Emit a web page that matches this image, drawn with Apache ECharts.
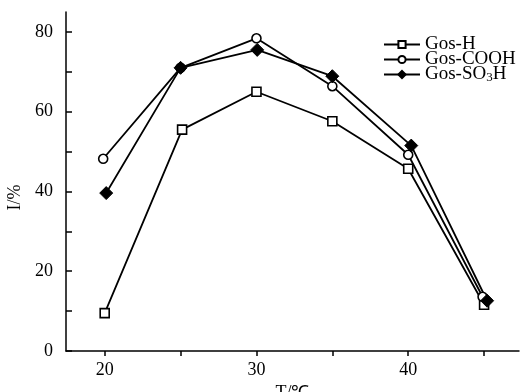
<!DOCTYPE html>
<html>
<head>
<meta charset="utf-8" />
<title>Gos T chart</title>
<style>
  html, body { margin: 0; padding: 0; background: #fff; }
  #chart { width: 521px; height: 392px; }
</style>
</head>
<body>
<div id="chart"></div>
<script src="https://cdn.jsdelivr.net/npm/echarts@6/dist/echarts.min.js"></script>
<script>
// values: [T, I]
const gosH = [[20, 9.5], [25.1, 55.5], [30, 65], [35, 57.6], [40, 45.7], [45, 11.6]];
const gosCOOH = [[19.9, 48.2], [25, 71], [30, 78.4], [35, 66.4], [40, 49.2], [44.9, 13.6]];
const gosSO3H = [[20.1, 39.6], [25, 71], [30.05, 75.5], [35, 68.9], [40.2, 51.5], [45.2, 12.6]];
const seriesNames = ['Gos-H', 'Gos-COOH', 'Gos-SO3H'];
const xTicks = [20, 25, 30, 35, 40, 45];
const xLabels = [20, 30, 40];
const yTicks = [0, 10, 20, 30, 40, 50, 60, 70, 80];
const yLabels = [0, 20, 40, 60, 80];

const font = 'Liberation Serif';
const lineStyle = { color: '#000', width: 1.8 };

const chart = echarts.init(document.getElementById('chart'));
chart.setOption({
  animation: false,
  grid: { left: 66, right: 2, top: 12, bottom: 41, outerBoundsMode: 'none', containLabel: false },
  legend: {
    left: 383,
    top: 35,
    padding: 0,
    orient: 'vertical',
    itemWidth: 36,
    itemHeight: 9,
    itemGap: -4,
    textStyle: {
      fontFamily: font,
      fontSize: 19,
      lineHeight: 15,
      color: '#000',
      rich: {
        n: { fontFamily: font, fontSize: 19, lineHeight: 15, color: '#000' },
        s: { fontFamily: font, fontSize: 13, lineHeight: 9, color: '#000', padding: [6, 0, 0, 0] }
      }
    },
    formatter: name => name === 'Gos-SO3H' ? '{n|Gos-SO}{s|3}{n|H}' : name,
    data: seriesNames
  },
  xAxis: {
    type: 'value',
    min: 17.45,
    max: 47.3,
    name: 'T/℃',
    nameLocation: 'middle',
    nameGap: 26,
    nameTextStyle: { fontFamily: font, fontSize: 18, color: '#000' },
    splitLine: { show: false },
    axisLine: { lineStyle: { color: '#000', width: 1.5 } },
    axisTick: { customValues: xTicks, length: 5, inside: false, lineStyle: { color: '#000', width: 1.5 } },
    axisLabel: { customValues: xLabels, fontFamily: font, fontSize: 18, color: '#000', margin: 10 }
  },
  yAxis: {
    type: 'value',
    min: 0,
    max: 85,
    name: 'I/%',
    nameLocation: 'middle',
    nameGap: 38,
    nameTextStyle: { fontFamily: font, fontSize: 18, color: '#000', padding: [0, 32, 0, 0] },
    splitLine: { show: false },
    axisLine: { onZero: false, lineStyle: { color: '#000', width: 1.5 } },
    axisTick: { customValues: yTicks, length: 6, inside: true, lineStyle: { color: '#000', width: 1.5 } },
    axisLabel: { customValues: yLabels, fontFamily: font, fontSize: 18, color: '#000', margin: 13 }
  },
  series: [
    {
      name: seriesNames[0], type: 'line', data: gosH,
      symbol: 'rect', symbolSize: 9,
      itemStyle: { color: '#fff', borderColor: '#000', borderWidth: 1.6 },
      lineStyle
    },
    {
      name: seriesNames[1], type: 'line', data: gosCOOH,
      symbol: 'circle', symbolSize: 9,
      itemStyle: { color: '#fff', borderColor: '#000', borderWidth: 1.6 },
      lineStyle
    },
    {
      name: seriesNames[2], type: 'line', data: gosSO3H,
      symbol: 'diamond', symbolSize: 13,
      itemStyle: { color: '#000', borderColor: '#000', borderWidth: 1 },
      lineStyle
    }
  ]
});
</script>
</body>
</html>
